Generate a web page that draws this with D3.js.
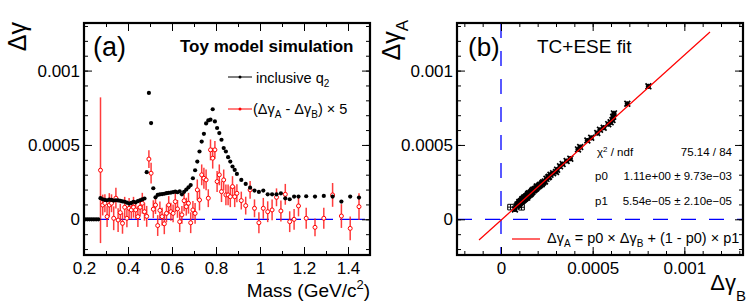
<!DOCTYPE html>
<html>
<head>
<meta charset="utf-8">
<script src="https://cdn.jsdelivr.net/npm/d3@7"></script>
<style>
  body { margin: 0; background: #fff; }
  text { font-family: "Liberation Sans", Arial, sans-serif; }
</style>
</head>
<body>
<div id="viz"></div>
<script>
// ---- data ----

// panel (a): inclusive q2, black dots
const massIncl = [0.205, 0.215, 0.225, 0.235, 0.245, 0.255, 0.265,
  0.275, 0.285, 0.295, 0.305, 0.315, 0.325, 0.335, 0.345, 0.355, 0.365, 0.375,
  0.385, 0.395, 0.405, 0.415, 0.425, 0.435, 0.445, 0.455, 0.465, 0.475,
  0.485, 0.495, 0.505, 0.515,
  0.525, 0.535, 0.545, 0.555, 0.565, 0.575, 0.585, 0.595, 0.605, 0.615, 0.625,
  0.635, 0.645, 0.655, 0.665, 0.675, 0.685, 0.695, 0.705, 0.715, 0.725, 0.735,
  0.745, 0.755, 0.765, 0.775, 0.785, 0.795, 0.805, 0.815, 0.825, 0.835, 0.845,
  0.855, 0.865, 0.875, 0.885, 0.895,
  0.915, 0.935, 0.955, 0.975, 0.995, 1.015, 1.035, 1.055, 1.075, 1.095, 1.115,
  1.135, 1.155, 1.175,
  1.21, 1.25, 1.29, 1.33, 1.37, 1.41, 1.45];
const dgIncl = [0, 0, 0, 0, 0, 0, 0,
  0.000142, 0.000135, 0.000130, 0.000128, 0.000132, 0.000130, 0.000126, 0.000128, 0.000127, 0.000124, 0.000120,
  0.000118, 0.000112, 0.000106, 0.000110, 0.000118, 0.000114, 0.000122, 0.000128, 0.000134, 0.000140,
  0.000317, 0.000850, 0.000647, 0.000209,
  0.000148, 0.000164, 0.000168, 0.000170, 0.000172, 0.000176, 0.000178, 0.000180, 0.000183, 0.000186, 0.000182,
  0.000188, 0.000168, 0.000185, 0.000200, 0.000215, 0.000230, 0.000276, 0.000330, 0.000388, 0.000456, 0.000523,
  0.000575, 0.000645, 0.000665, 0.000670, 0.000740, 0.000658, 0.000614, 0.000580, 0.000535, 0.000479, 0.000456,
  0.000418, 0.000388, 0.000355, 0.000332, 0.000305,
  0.000265, 0.000238, 0.000213, 0.000193, 0.000184, 0.000193, 0.000168, 0.000168, 0.000168, 0.000175, 0.000141,
  0.000135, 0.000153, 0.000153,
  0.000155, 0.000153, 0.000157, 0.000153, 0.000119, 0.000153, 0.000146];

// panel (a): (dgA - dgB) x 5, red open circles with errors
const massDiff = [0.275, 0.285, 0.295, 0.305, 0.315, 0.325, 0.335, 0.345, 0.355, 0.365, 0.375,
  0.385, 0.395, 0.405, 0.415, 0.425, 0.435, 0.445, 0.455, 0.465, 0.475,
  0.485, 0.495, 0.505, 0.515,
  0.525, 0.535, 0.545, 0.555, 0.565, 0.575, 0.585, 0.595, 0.605, 0.615, 0.625,
  0.635, 0.645, 0.655, 0.665, 0.675, 0.685, 0.695, 0.705, 0.715, 0.725, 0.735,
  0.745, 0.755, 0.765, 0.775, 0.785, 0.795, 0.805, 0.815, 0.825, 0.835, 0.845,
  0.855, 0.865, 0.875, 0.885, 0.895,
  0.915, 0.935, 0.955, 0.975, 0.995, 1.015, 1.035, 1.055, 1.075, 1.095, 1.115,
  1.135, 1.155, 1.175,
  1.21, 1.25, 1.29, 1.33, 1.37, 1.41, 1.45];
const dgDiff = [0.000330, 0.000096, 0.000108, 0.000018, 0.000096, 0.000108, 0.000007, 0.000142, -0.000005, 0.000045, -0.000027,
  0.000081, 0.000007, 0.000074, 0.000063, 0.000081, 0.000063, 0.000018, 0.000081, 0.000108, 0.000051,
  0.000020, 0.000405, 0.000310, 0.000068,
  0.000096, -0.000042, 0.000060, 0.000018, -0.000030, 0.000040, 0.000096, 0.000051, 0.000040, 0.000119, 0.000070,
  -0.000016, 0.000030, 0.000125, 0.000085, 0.000108, -0.000023, 0.000063, 0.000040, 0.000198, 0.000130, 0.000299,
  0.000276, 0.000265, 0.000142, 0.000467, 0.000411, 0.000467, 0.000254, 0.000299, 0.000186, 0.000265, 0.000164,
  0.000164, 0.000152, 0.000220, 0.000152, 0.000175,
  0.000126, 0.000092, 0.000198, 0.000074, -0.000023, 0.000074, 0.000051, 0.000063, 0.000148, 0.000056, 0.000168,
  -0.000016, 0.000000, 0.000090,
  0.000007, -0.000054, 0.000007, 0.000164, 0.000022, -0.000061, 0.000085];
const dgDiffErr = [0.00049, 0.00007, 0.00006, 0.00007, 0.00008, 0.00006, 0.00008, 0.00007, 0.00008, 0.00006, 0.00007,
  0.00007, 0.00006, 0.00007, 0.00006, 0.00007, 0.00006, 0.00007, 0.00006, 0.00007, 0.00006,
  0.00007, 0.00006, 0.00007, 0.00006,
  0.00006, 0.00007, 0.00006, 0.00006, 0.00007, 0.00006, 0.00006, 0.00006, 0.00006, 0.00007, 0.00006,
  0.00007, 0.00006, 0.00007, 0.00006, 0.00007, 0.00007, 0.00006, 0.00007, 0.00007, 0.00007, 0.00007,
  0.00007, 0.00007, 0.00006, 0.00007, 0.00007, 0.00006, 0.00007, 0.00007, 0.00007, 0.00007, 0.00007,
  0.00007, 0.00007, 0.00007, 0.00007, 0.00006,
  0.00006, 0.00006, 0.00006, 0.00006, 0.00007, 0.00007, 0.00007, 0.00007, 0.00006, 0.00007, 0.00007,
  0.00007, 0.00007, 0.00007,
  0.00007, 0.00006, 0.00007, 0.00008, 0.00008, 0.00008, 0.00009];

// panel (b): dgA vs dgB
const dgB = [0.000804, 0.000689, 0.000616, 0.000612, 0.000608, 0.000598, 0.000585, 0.000560, 0.000540, 0.000525,
  0.000492, 0.000471, 0.000432, 0.000420, 0.000378, 0.000358, 0.000336, 0.000322, 0.000306, 0.000300,
  0.000284, 0.000262, 0.000248, 0.000240, 0.000231, 0.000222, 0.000214, 0.000205, 0.000198, 0.000192,
  0.000186, 0.000180, 0.000176, 0.000172, 0.000168, 0.000165, 0.000162, 0.000158, 0.000155, 0.000152,
  0.000150, 0.000147, 0.000145, 0.000142, 0.000140, 0.000138, 0.000136, 0.000134, 0.000132, 0.000130,
  0.000128, 0.000126, 0.000124, 0.000122, 0.000120, 0.000118, 0.000116, 0.000114, 0.000112, 0.000110,
  0.000108, 0.000105, 0.000102, 0.000100, 0.000097, 0.000094, 0.000090, 0.000085, 0.000076, 0.000135,
  0.000143, 0.000153, 0.000160, 0.000170, 0.000183, 0.000195, 0.000210, 0.000226, 0.000258, 0.000270,
  0.000148, 0.000127, 0.000117];
const dgA = [0.000894, 0.000777, 0.000712, 0.000690, 0.000668, 0.000652, 0.000640, 0.000616, 0.000602, 0.000580,
  0.000548, 0.000530, 0.000486, 0.000470, 0.000408, 0.000392, 0.000372, 0.000356, 0.000334, 0.000318,
  0.000310, 0.000286, 0.000272, 0.000255, 0.000250, 0.000236, 0.000232, 0.000222, 0.000216, 0.000207,
  0.000204, 0.000196, 0.000198, 0.000186, 0.000184, 0.000176, 0.000180, 0.000172, 0.000166, 0.000170,
  0.000160, 0.000163, 0.000155, 0.000158, 0.000150, 0.000153, 0.000145, 0.000148, 0.000140, 0.000144,
  0.000136, 0.000141, 0.000132, 0.000137, 0.000128, 0.000131, 0.000124, 0.000127, 0.000120, 0.000118,
  0.000121, 0.000114, 0.000110, 0.000116, 0.000104, 0.000096, 0.000100, 0.000088, 0.000066, 0.000152,
  0.000146, 0.000175, 0.000169, 0.000192, 0.000200, 0.000221, 0.000228, 0.000244, 0.000283, 0.000300,
  0.000171, 0.000146, 0.000136];
// the two open-square points near the origin
const dgBsq = [0.000052, 0.000112];
const dgAsq = [0.000082, 0.000081];

// fit: dgA = p0*dgB + (1-p0)*p1
const p0 = 1.11, p1 = 5.54e-5;
const fitRange = [-0.00012, 0.00114];

const massTicks = [0.2, 0.4, 0.6, 0.8, 1.0, 1.2, 1.4];
const dgTicks = [0, 0.0005, 0.001];

// ---- layout ----
const W = 747, H = 306;
const panA = {x0: 84, x1: 370, y0: 23, y1: 255};
const panB = {x0: 457, x1: 743, y0: 23, y1: 255};
const fontFam = '"Liberation Sans", Arial, sans-serif';

const svg = d3.select("#viz").append("svg")
  .attr("width", W).attr("height", H)
  .style("background", "#fff");

const yA = d3.scaleLinear().domain([-0.00024, 0.00132]).range([panA.y1, panA.y0]);
const xA = d3.scaleLinear().domain([0.2, 1.5]).range([panA.x0, panA.x1]);
const yB = d3.scaleLinear().domain([-0.00024, 0.00132]).range([panB.y1, panB.y0]);
const xB = d3.scaleLinear().domain([-0.00024, 0.00132]).range([panB.x0, panB.x1]);

const fmt = d => d === 0 ? "0" : d3.format("~g")(+d.toFixed(6));
const minorDg = d3.range(-2, 14).map(i => +(i * 0.0001).toFixed(4));
const minorMass = d3.range(2, 16).map(i => +(i * 0.1).toFixed(1));

function frameAxes(p, x, y, xMajor, xMinor, yMajor, yMinor) {
  const g = svg.append("g").attr("class", "axes");
  const tickStyle = sel => {
    sel.select(".domain").remove();
    sel.selectAll("line").attr("stroke", "#000").attr("stroke-width", 1);
    sel.selectAll("text").attr("font-size", 17).attr("fill", "#000")
      .attr("font-family", fontFam);
  };
  // bottom
  g.append("g").attr("transform", `translate(0,${p.y1})`)
    .call(d3.axisBottom(x).tickValues(xMajor).tickFormat(fmt).tickSizeInner(-8).tickSizeOuter(0).tickPadding(7))
    .call(tickStyle);
  g.append("g").attr("transform", `translate(0,${p.y1})`)
    .call(d3.axisBottom(x).tickValues(xMinor).tickFormat("").tickSizeInner(-4).tickSizeOuter(0))
    .call(tickStyle);
  // top
  g.append("g").attr("transform", `translate(0,${p.y0})`)
    .call(d3.axisTop(x).tickValues(xMajor).tickFormat("").tickSizeInner(-8).tickSizeOuter(0))
    .call(tickStyle);
  g.append("g").attr("transform", `translate(0,${p.y0})`)
    .call(d3.axisTop(x).tickValues(xMinor).tickFormat("").tickSizeInner(-4).tickSizeOuter(0))
    .call(tickStyle);
  // left
  g.append("g").attr("transform", `translate(${p.x0},0)`)
    .call(d3.axisLeft(y).tickValues(yMajor).tickFormat(fmt).tickSizeInner(-8).tickSizeOuter(0).tickPadding(4))
    .call(tickStyle);
  g.append("g").attr("transform", `translate(${p.x0},0)`)
    .call(d3.axisLeft(y).tickValues(yMinor).tickFormat("").tickSizeInner(-4).tickSizeOuter(0))
    .call(tickStyle);
  // right
  g.append("g").attr("transform", `translate(${p.x1},0)`)
    .call(d3.axisRight(y).tickValues(yMajor).tickFormat("").tickSizeInner(-8).tickSizeOuter(0))
    .call(tickStyle);
  g.append("g").attr("transform", `translate(${p.x1},0)`)
    .call(d3.axisRight(y).tickValues(yMinor).tickFormat("").tickSizeInner(-4).tickSizeOuter(0))
    .call(tickStyle);
  // frame
  g.append("rect")
    .attr("x", p.x0).attr("y", p.y0)
    .attr("width", p.x1 - p.x0).attr("height", p.y1 - p.y0)
    .attr("fill", "none").attr("stroke", "#000").attr("stroke-width", 2.2);
}

function clipFor(id, p) {
  svg.append("clipPath").attr("id", id).append("rect")
    .attr("x", p.x0).attr("y", p.y0).attr("width", p.x1 - p.x0).attr("height", p.y1 - p.y0);
  return svg.append("g").attr("clip-path", `url(#${id})`);
}

/*
 * Panel (a)
 */
const gA = clipFor("clipA", panA);

gA.append("line")
  .attr("x1", xA(0.2)).attr("x2", xA(1.5))
  .attr("y1", yA(0)).attr("y2", yA(0))
  .attr("stroke", "#0000ff").attr("stroke-width", 1.3)
  .attr("stroke-dasharray", "25,7");

const diffData = massDiff.map((m, i) => ({m: m, v: dgDiff[i], e: dgDiffErr[i]}));

gA.selectAll("line.err")
  .data(diffData).enter()
  .append("line").attr("class", "err")
  .attr("x1", d => xA(d.m)).attr("x2", d => xA(d.m))
  .attr("y1", d => yA(d.v + d.e)).attr("y2", d => yA(d.v - d.e))
  .attr("stroke", "#ff1a1a").attr("stroke-width", 1.5).attr("stroke-opacity", 0.85);

gA.selectAll("circle.diff")
  .data(diffData).enter()
  .append("circle").attr("class", "diff")
  .attr("cx", d => xA(d.m)).attr("cy", d => yA(d.v))
  .attr("r", 2)
  .attr("fill", "#fff").attr("stroke", "#ff0000").attr("stroke-width", 1);

gA.selectAll("circle.incl")
  .data(massIncl.map((m, i) => [m, dgIncl[i]])).enter()
  .append("circle").attr("class", "incl")
  .attr("cx", d => xA(d[0])).attr("cy", d => yA(d[1]))
  .attr("r", 2.1)
  .attr("fill", "#000");

frameAxes(panA, xA, yA, massTicks, minorMass, dgTicks, minorDg);

// labels panel (a)
svg.append("text").attr("x", 93).attr("y", 56)
  .attr("font-size", 27).text("(a)");
svg.append("text").attr("x", 180).attr("y", 52)
  .attr("font-size", 17).attr("font-weight", "bold").text("Toy model simulation");

// legend (a)
const legA = svg.append("g");
legA.append("line").attr("x1", 228).attr("x2", 252).attr("y1", 77).attr("y2", 77)
  .attr("stroke", "#000").attr("stroke-width", 1);
legA.append("circle").attr("cx", 240).attr("cy", 77).attr("r", 1.5).attr("fill", "#000");
legA.append("text").attr("x", 256).attr("y", 83).attr("font-size", 14.5)
  .text("inclusive q")
  .append("tspan").attr("font-size", 10).attr("dy", 4).text("2");

legA.append("line").attr("x1", 228).attr("x2", 252).attr("y1", 109).attr("y2", 109)
  .attr("stroke", "#ff0000").attr("stroke-width", 1);
legA.append("circle").attr("cx", 240).attr("cy", 109).attr("r", 1.5).attr("fill", "#ff0000");
const t2 = legA.append("text").attr("x", 253).attr("y", 114).attr("font-size", 14.5);
t2.append("tspan").text("(Δγ");
t2.append("tspan").attr("font-size", 10).attr("dy", 4).text("A");
t2.append("tspan").attr("dy", -4).text(" - Δγ");
t2.append("tspan").attr("font-size", 10).attr("dy", 4).text("B");
t2.append("tspan").attr("dy", -4).text(") × 5");

// axis titles (a)
svg.append("text").attr("transform", "translate(26,22) rotate(-90)")
  .attr("text-anchor", "end").attr("font-size", 25).text("Δγ");
const xtA = svg.append("text").attr("x", 370).attr("y", 297)
  .attr("text-anchor", "end").attr("font-size", 19);
xtA.append("tspan").text("Mass (GeV/c");
xtA.append("tspan").attr("font-size", 13).attr("dy", -8).text("2");
xtA.append("tspan").attr("dy", 8).text(")");

/*
 * Panel (b)
 */
const gB = clipFor("clipB", panB);

gB.append("line")
  .attr("x1", panB.x0).attr("x2", panB.x1)
  .attr("y1", yB(0)).attr("y2", yB(0))
  .attr("stroke", "#0000ff").attr("stroke-width", 1.3)
  .attr("stroke-dasharray", "15,13");
gB.append("line")
  .attr("x1", xB(0)).attr("x2", xB(0))
  .attr("y1", panB.y0).attr("y2", panB.y1)
  .attr("stroke", "#0000ff").attr("stroke-width", 1.3)
  .attr("stroke-dasharray", "15,13");

const star = (cx, cy) => {
  const s = 2.9, t = 2.6;
  return `M${cx - s},${cy - s}L${cx + s},${cy + s}M${cx - s},${cy + s}L${cx + s},${cy - s}` +
    `M${cx - t},${cy}L${cx + t},${cy}M${cx},${cy - t}L${cx},${cy + t}`;
};

gB.selectAll("path.pts")
  .data(dgB.map((b, i) => [b, dgA[i]])).enter()
  .append("path").attr("class", "pts")
  .attr("d", d => star(xB(d[0]), yB(d[1])))
  .attr("stroke", "#000").attr("stroke-width", 1.7).attr("fill", "none");

const sq = (cx, cy) => {
  const s = 2.8;
  return `M${cx - s},${cy - s}h${2 * s}v${2 * s}h${-2 * s}Z` +
    `M${cx - s},${cy}H${cx + s}M${cx},${cy - s}V${cy + s}`;
};
gB.selectAll("path.sq")
  .data(dgBsq.map((b, i) => [b, dgAsq[i]])).enter()
  .append("path").attr("class", "sq")
  .attr("d", d => sq(xB(d[0]), yB(d[1])))
  .attr("stroke", "#000").attr("stroke-width", 1).attr("fill", "none");

const fitLine = d3.line().x(d => xB(d)).y(d => yB(p0 * d + (1 - p0) * p1));
gB.append("path")
  .attr("d", fitLine(fitRange))
  .attr("stroke", "#ff0000").attr("stroke-width", 1.2).attr("fill", "none");

frameAxes(panB, xB, yB, dgTicks, minorDg, dgTicks, minorDg);

svg.append("text").attr("x", 468).attr("y", 56)
  .attr("font-size", 26).text("(b)");
svg.append("text").attr("x", 537).attr("y", 53)
  .attr("font-size", 19).text("TC+ESE fit");

// fit stats box
const stats = svg.append("g").attr("font-size", 11.5);
const chi = stats.append("text").attr("x", 597).attr("y", 156);
chi.append("tspan").text("χ");
chi.append("tspan").attr("font-size", 8).attr("dy", -4).text("2");
chi.append("tspan").attr("dy", 4).text(" / ndf");
stats.append("text").attr("x", 732).attr("y", 156).attr("text-anchor", "end").text("75.14 / 84");
stats.append("text").attr("x", 595).attr("y", 180).text("p0");
stats.append("text").attr("x", 732).attr("y", 180).attr("text-anchor", "end")
  .text("1.11e+00 ± 9.73e−03");
stats.append("text").attr("x", 595).attr("y", 205).text("p1");
stats.append("text").attr("x", 732).attr("y", 205).attr("text-anchor", "end")
  .text("5.54e−05 ± 2.10e−05");

// legend (b)
svg.append("line").attr("x1", 512).attr("x2", 540).attr("y1", 239).attr("y2", 239)
  .attr("stroke", "#ff0000").attr("stroke-width", 1.2);
const lb = svg.append("text").attr("x", 547).attr("y", 243).attr("font-size", 14.5);
lb.append("tspan").text("Δγ");
lb.append("tspan").attr("font-size", 10).attr("dy", 4).text("A");
lb.append("tspan").attr("dy", -4).text(" = p0 × Δγ");
lb.append("tspan").attr("font-size", 10).attr("dy", 4).text("B");
lb.append("tspan").attr("dy", -4).text(" + (1 - p0) × p1");

// axis titles (b)
const ytB = svg.append("text").attr("transform", "translate(400,20) rotate(-90)")
  .attr("text-anchor", "end").attr("font-size", 25);
ytB.append("tspan").text("Δγ");
ytB.append("tspan").attr("font-size", 17).attr("dy", 8).text("A");
const xtB = svg.append("text").attr("x", 746).attr("y", 290)
  .attr("text-anchor", "end").attr("font-size", 22);
xtB.append("tspan").text("Δγ");
xtB.append("tspan").attr("font-size", 15).attr("dy", 11).text("B");
</script>
</body>
</html>
